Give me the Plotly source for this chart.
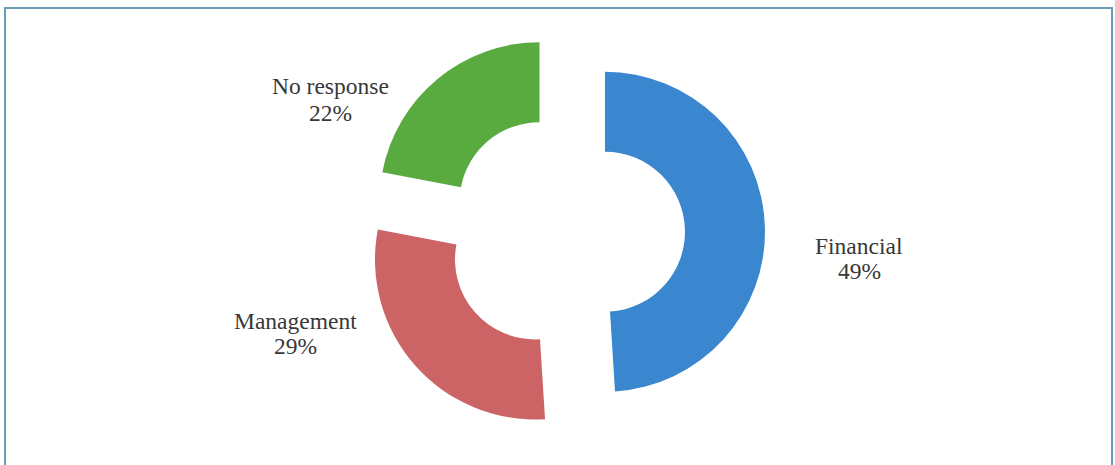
import plotly.graph_objects as go

# Survey responses
categories = ["Financial", "Management", "No response"]
shares = [49, 29, 22]
colors = ["#3a87cf", "#cc6466", "#5aab3f"]

W, H = 1115, 465
SERIF = "Liberation Serif, Times New Roman, serif"

fig = go.Figure(
    go.Pie(
        labels=categories,
        values=shares,
        hole=0.5,
        pull=[0.25, 0.25, 0.25],
        sort=False,
        direction="clockwise",
        rotation=0,
        marker=dict(colors=colors, line=dict(width=0)),
        textinfo="none",
        hoverinfo="label+percent",
        showlegend=False,
        domain=dict(x=[365 / W, 765 / W], y=[32 / H, 432 / H]),
    )
)

# Label placement beside each slice: (x centre, name line y, percent line y) in pixels
label_pos = {
    "Financial": (859, 246, 271),
    "Management": (295, 321, 346),
    "No response": (330, 86, 113),
}
annotations = []
for name, val in zip(categories, shares):
    px, y_name, y_pct = label_pos[name]
    for txt, py in ((name, y_name), (f"{val}%", y_pct)):
        annotations.append(
            dict(
                x=px / W,
                y=1 - py / H,
                xref="paper",
                yref="paper",
                text=txt,
                showarrow=False,
                xanchor="center",
                yanchor="middle",
                font=dict(family=SERIF, size=23.5, color="#383838"),
            )
        )

fig.update_layout(
    width=W,
    height=H,
    margin=dict(l=0, r=0, t=0, b=0),
    font=dict(family=SERIF),
    paper_bgcolor="white",
    plot_bgcolor="white",
    annotations=annotations,
    shapes=[
        dict(
            type="rect",
            xref="paper",
            yref="paper",
            x0=5 / W,
            x1=1112 / W,
            y0=-0.05,
            y1=1 - 8 / H,
            line=dict(color="#6d9db5", width=2),
            fillcolor="rgba(0,0,0,0)",
        )
    ],
)

fig.write_html("out.html")
